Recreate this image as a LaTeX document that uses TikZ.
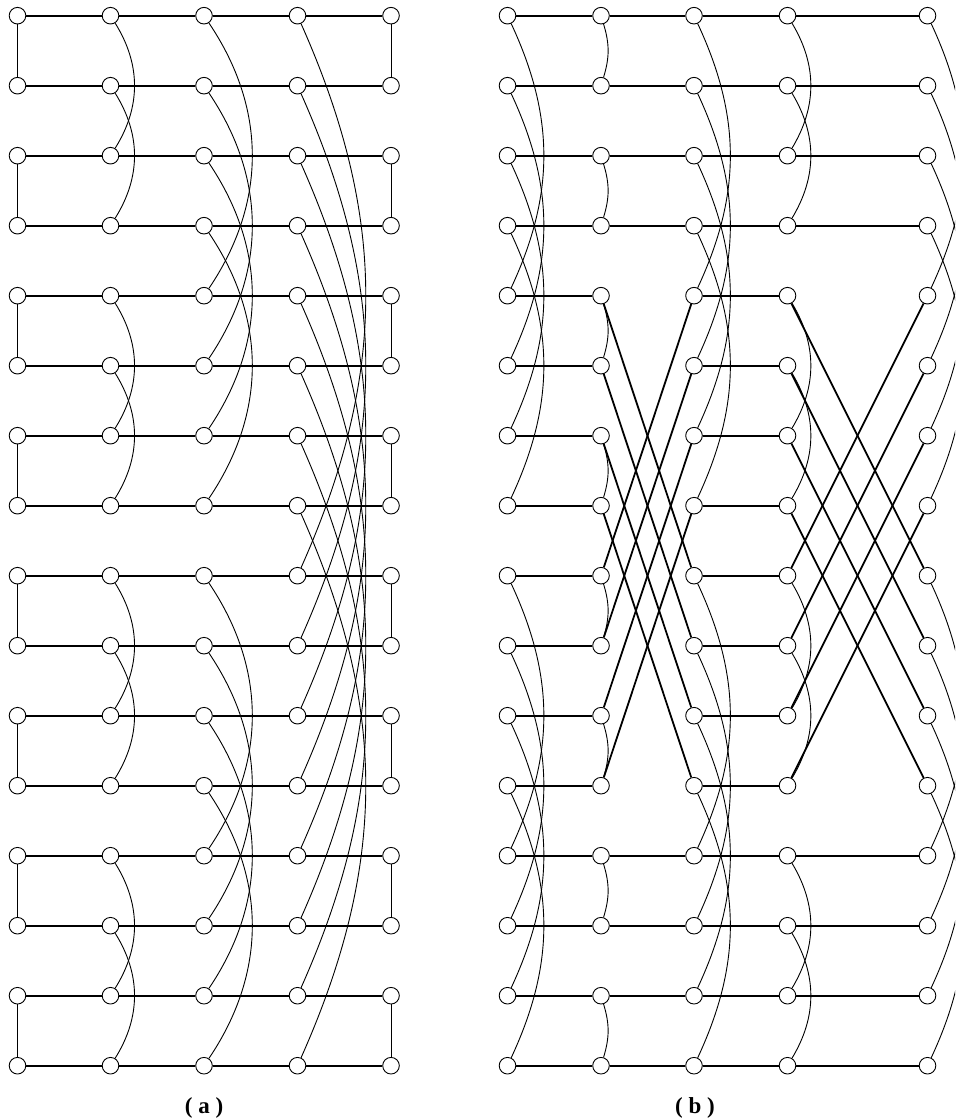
\documentclass[tikz,border=0pt]{standalone}
\usepackage{fontspec}
\setmainfont{Liberation Serif}
\usetikzlibrary{positioning}
\tikzset{
  vtx/.style={draw,circle,line width=0.9pt,minimum size=16.6pt,inner sep=0pt,fill=white},
  link/.style={line width=1.8pt},
  wire/.style={line width=0.9pt},
  caption/.style={font=\fontsize{23}{26}\selectfont\bfseries,anchor=base},
}
\begin{document}
\begin{tikzpicture}[x=1pt,y=1pt]
\useasboundingbox (0,0) rectangle (955,-1118);
\clip (0,0) rectangle (955,-1118);

% switches of both networks
\foreach \r in {0,...,15}{
  \foreach \c/\x in {1/17.5,2/110.5,3/204,4/297.5,5/391}
    \node[vtx] (a\c-\r) at (\x,-15.7-70*\r) {};
  \foreach \c/\x in {1/507.5,2/601,3/694,4/787.5,5/927.5}
    \node[vtx] (b\c-\r) at (\x,-15.7-70*\r) {};
}

% network (a)
\foreach \r in {0,...,15}
  \foreach \c/\n in {1/2,2/3,3/4,4/5}
    \draw[link] (a\c-\r) -- (a\n-\r);
\foreach \r/\s in {0/1,2/3,4/5,6/7,8/9,10/11,12/13,14/15}{
  \draw[wire] (a1-\r) -- (a1-\s);
  \draw[wire] (a5-\r) -- (a5-\s);
}
\foreach \r/\s in {0/2,1/3,4/6,5/7,8/10,9/11,12/14,13/15}
  \draw[wire] (a2-\r) to[bend left=32] (a2-\s);
\foreach \r/\s in {0/4,1/5,2/6,3/7,8/12,9/13,10/14,11/15}
  \draw[wire] (a3-\r) to[bend left=34] (a3-\s);
\foreach \r/\s in {0/8,1/9,2/10,3/11,4/12,5/13,6/14,7/15}
  \draw[wire] (a4-\r) to[bend left=24] (a4-\s);

% network (b)
\foreach \r in {0,...,15}{
  \draw[link] (b1-\r) -- (b2-\r);
  \draw[link] (b3-\r) -- (b4-\r);
}
\foreach \r in {0,1,2,3,12,13,14,15}{
  \draw[link] (b2-\r) -- (b3-\r);
  \draw[link] (b4-\r) -- (b5-\r);
}
\foreach \r/\s in {4/8,5/9,6/10,7/11,8/4,9/5,10/6,11/7}{
  \draw[link] (b2-\r) -- (b3-\s);
  \draw[link] (b4-\r) -- (b5-\s);
}
\foreach \r/\s in {0/4,1/5,2/6,3/7,8/12,9/13,10/14,11/15}{
  \draw[wire] (b1-\r) to[bend left=25] (b1-\s);
  \draw[wire] (b3-\r) to[bend left=25] (b3-\s);
  \draw[wire] (b5-\r) to[bend left=25] (b5-\s);
}
\foreach \r/\s in {0/2,1/3,4/6,5/7,8/10,9/11,12/14,13/15}
  \draw[wire] (b4-\r) to[bend left=31] (b4-\s);
\foreach \r/\s in {0/1,2/3,4/5,6/7,8/9,10/11,12/13,14/15}
  \draw[wire] (b2-\r) to[bend left=17] (b2-\s);

\node[caption] (capa) at (204,-1113) {( a )};
\node[caption] (capb) at (695,-1113) {( b )};
\end{tikzpicture}
\end{document}
